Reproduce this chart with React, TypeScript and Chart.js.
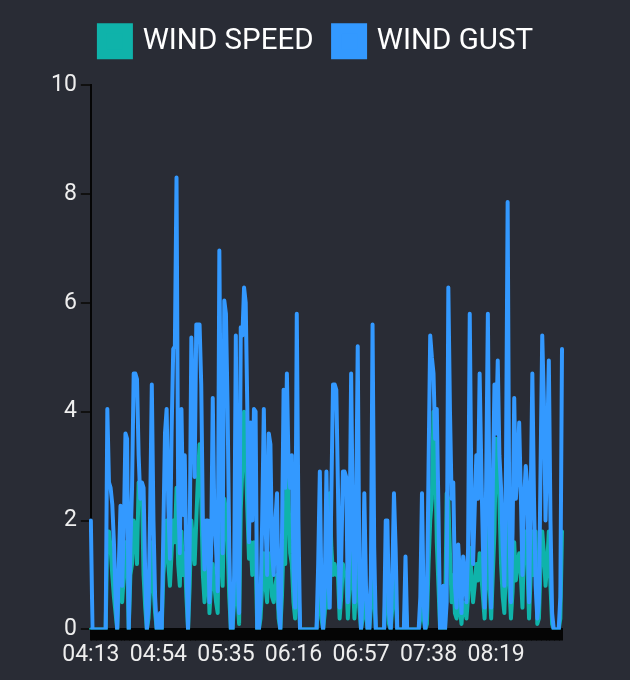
import React, { useEffect, useRef } from "react";
import { Chart, registerables } from "chart.js";

Chart.register(...registerables);

// x-axis tick labels shown (every 41st sample, one sample per minute)
const TICK_LABELS = ["04:13", "04:54", "05:35", "06:16", "06:57", "07:38", "08:19"];
const TICK_EVERY = 41;
const START_MIN = 4 * 60 + 13;

const WIND_GUST = [
  2.0, 0, 0, 0, 0, 0, 0, 0, 0, 0,
  4.05, 2.7, 2.6, 2.3, 1.6, 0.6, 0, 1.2, 2.27, 0.8,
  1.8, 3.6, 3.5, 0, 1.5, 2.6, 4.7, 4.7, 4.6, 3.2,
  2.4, 2.7, 2.6, 1.0, 0, 0.4, 2.2, 4.5, 2.0, 0.6,
  0, 0, 0.3, 0, 1.8, 3.6, 4.05, 2.3, 1.3, 3.6,
  5.15, 5.2, 8.3, 2.5, 1.4, 4.05, 2.1, 3.2, 1.2, 0,
  1.6, 5.36, 4.2, 2.8, 5.6, 5.6, 5.6, 4.5, 2.0, 1.1,
  2.0, 2.0, 0.5, 1.4, 4.25, 2.0, 1.5, 0.7, 6.96, 3.0,
  1.4, 6.04, 5.8, 4.1, 1.5, 0, 0, 1.0, 5.4, 1.2,
  0.3, 5.55, 5.4, 6.28, 6.0, 4.0, 1.6, 3.8, 2.0, 4.05,
  4.0, 0, 0, 0.5, 2.0, 4.05, 2.0, 1.0, 3.6, 3.4,
  1.4, 1.0, 2.0, 2.5, 0.4, 0, 1.6, 4.4, 2.6, 4.7,
  3.0, 2.6, 3.2, 1.1, 0.4, 5.8, 2.0, 0, 0, 0,
  0, 0, 0, 0, 0, 0, 0, 0, 1.2, 2.9,
  0.6, 0, 0.8, 2.9, 1.0, 0.4, 2.5, 4.5, 4.5, 4.4,
  2.6, 0.4, 1.3, 2.9, 2.9, 2.8, 0.5, 1.5, 4.7, 2.0,
  0.5, 2.0, 5.2, 1.0, 0, 0.6, 2.5, 0.8, 0, 0,
  1.0, 5.6, 1.5, 0, 0, 0, 0, 0, 0, 2.0,
  2.0, 0.3, 0, 1.0, 2.5, 1.5, 0, 0, 0, 0,
  0, 1.34, 0, 0, 0, 0, 0, 0, 0, 0,
  0.6, 2.5, 0.5, 0, 0.4, 3.0, 5.4, 5.0, 4.7, 3.5,
  4.05, 2.2, 0, 0, 0.8, 0, 0.5, 6.28, 4.0, 2.4,
  2.7, 0.8, 0.4, 1.56, 1.0, 0.3, 1.34, 1.0, 0.5, 1.5,
  5.8, 2.5, 1.2, 2.2, 3.2, 2.4, 4.7, 3.0, 1.5, 0.4,
  2.8, 5.8, 2.0, 0.4, 2.6, 4.5, 3.6, 4.94, 3.2, 2.6,
  1.5, 0.8, 3.0, 7.85, 2.0, 0.5, 1.8, 4.25, 2.4, 2.9,
  3.8, 2.5, 1.0, 2.4, 3.0, 2.6, 0.5, 2.4, 4.7, 2.4,
  0.8, 0.2, 0.5, 3.0, 5.4, 4.2, 2.0, 3.3, 4.94, 2.0,
  0.3, 0, 0, 0, 0, 0.6, 5.15,
];

const WIND_SPEED = [
  0, 0, 0, 0, 0, 0, 0, 0, 0, 0,
  1.8, 1.8, 1.5, 1.0, 0.6, 0.3, 0, 0.8, 1.0, 0.5,
  1.0, 1.6, 1.4, 0, 1.0, 1.2, 2.0, 1.8, 1.2, 2.7,
  2.6, 2.5, 1.0, 0.4, 0, 0.2, 0.8, 1.6, 0.8, 0.3,
  0, 0, 0.1, 0, 1.0, 1.4, 2.0, 1.2, 0.8, 1.4,
  2.0, 1.6, 2.6, 1.2, 0.8, 1.8, 1.0, 1.4, 0.6, 0,
  0.8, 2.0, 1.6, 1.2, 2.0, 2.8, 3.4, 2.4, 1.0, 0.5,
  1.0, 1.2, 0.3, 0.8, 1.2, 0.8, 0.5, 0.3, 2.6, 1.4,
  0.8, 2.4, 2.2, 1.6, 0.6, 0, 0, 0.5, 2.0, 0.6,
  0.1, 2.2, 3.0, 4.0, 3.2, 2.2, 1.3, 1.6, 1.0, 1.6,
  1.4, 0, 0, 0.2, 0.8, 1.4, 0.8, 0.5, 1.4, 1.2,
  0.6, 0.5, 0.8, 1.0, 0.2, 0, 0.6, 1.6, 1.2, 3.6,
  2.4, 1.4, 1.2, 0.5, 0.2, 2.2, 0.8, 0, 0, 0,
  0, 0, 0, 0, 0, 0, 0, 0, 0.5, 1.2,
  0.2, 0, 0.3, 1.0, 0.4, 2.5, 1.5, 1.0, 1.2, 1.0,
  1.0, 0.2, 0.6, 1.2, 1.0, 1.0, 0.2, 0.8, 1.6, 1.0,
  0.2, 0.8, 1.8, 0.4, 0, 0.2, 1.0, 0.3, 0, 0,
  0.4, 2.0, 0.6, 0, 0, 0, 0, 0, 0, 0.8,
  0.8, 0.1, 0, 0.4, 1.0, 0.6, 0, 0, 0, 0,
  0, 0.5, 0, 0, 0, 0, 0, 0, 0, 0,
  0.2, 1.0, 0.2, 0, 0.1, 1.2, 2.0, 2.4, 4.0, 3.3,
  1.6, 0.8, 0, 0, 0.3, 0, 2.5, 2.4, 1.4, 0.5,
  1.0, 0.3, 0.2, 0.6, 0.4, 0.1, 0.5, 0.4, 0.2, 0.6,
  1.5, 1.0, 0.5, 0.8, 1.2, 0.9, 1.4, 1.0, 0.6, 0.2,
  1.0, 2.0, 0.8, 0.2, 1.0, 1.8, 3.5, 3.0, 2.4, 1.2,
  0.6, 0.3, 1.2, 2.6, 0.8, 0.2, 0.7, 1.6, 0.9, 1.2,
  1.4, 1.0, 0.4, 1.8, 1.8, 1.2, 0.2, 1.0, 1.8, 1.0,
  1.8, 0.1, 0.2, 1.2, 1.8, 1.4, 0.8, 1.2, 1.8, 0.8,
  0.1, 0, 0, 0, 0, 0.2, 1.8,
];

const pad = (n: number) => (n < 10 ? "0" + n : "" + n);
const TIMES = WIND_GUST.map((_, i) => {
  const m = START_MIN + i;
  return pad(Math.floor(m / 60)) + ":" + pad(m % 60);
});

const BG = "#292c35";
const TEAL = "#0fb3aa";
const BLUE = "#3399ff";

// adds space below the legend
const legendSpacer = {
  id: "legendSpacer",
  beforeInit(chart: any) {
    const origFit = chart.legend.fit;
    chart.legend.fit = function () {
      origFit.bind(chart.legend)();
      this.height += 19;
    };
  },
};

export default function App() {
  const ref = useRef<HTMLCanvasElement | null>(null);

  useEffect(() => {
    document.body.style.margin = "0";
    document.body.style.background = BG;
    if (!ref.current) return;
    Chart.defaults.font.family = "Roboto";
    const baseGen = Chart.defaults.plugins.legend.labels.generateLabels;
    const chart = new Chart(ref.current, {
      type: "line",
      plugins: [legendSpacer],
      data: {
        labels: TIMES,
        datasets: [
          {
            label: "WIND GUST",
            data: WIND_GUST,
            borderColor: BLUE,
            backgroundColor: BLUE,
            borderWidth: 4,
            pointRadius: 0,
            tension: 0,
            borderJoinStyle: "round",
            borderCapStyle: "round",
            fill: false,
          },
          {
            label: "WIND SPEED",
            data: WIND_SPEED,
            borderColor: TEAL,
            backgroundColor: TEAL,
            borderWidth: 4,
            pointRadius: 0,
            tension: 0,
            borderJoinStyle: "round",
            borderCapStyle: "round",
            fill: false,
          },
        ],
      },
      options: {
        animation: false,
        responsive: true,
        maintainAspectRatio: false,
        layout: { padding: { top: 4, left: 47, right: 42, bottom: 10 } },
        plugins: {
          tooltip: { enabled: false },
          legend: {
            reverse: true,
            labels: {
              color: "#ffffff",
              boxWidth: 26,
              boxHeight: 26,
              padding: 22.5,
              font: { size: 29.5 },
              generateLabels: (c: any) =>
                baseGen(c).map((l: any) => ({ ...l, lineWidth: 10, lineJoin: "miter" })),
            },
          },
        },
        scales: {
          x: {
            grid: {
              display: true,
              drawOnChartArea: false,
              drawTicks: true,
              tickLength: 11,
              color: "#050505",
              lineWidth: 2,
            },
            border: { display: true, color: "#050505", width: 2 },
            ticks: {
              autoSkip: false,
              maxRotation: 0,
              minRotation: 0,
              color: "#eeeeee",
              font: { size: 23 },
              padding: 1,
              callback: (_v: any, i: number) =>
                i % TICK_EVERY === 0 && TICK_LABELS[i / TICK_EVERY] ? TICK_LABELS[i / TICK_EVERY] : "",
            },
          },
          y: {
            min: 0,
            max: 10,
            grid: {
              display: true,
              drawOnChartArea: false,
              drawTicks: true,
              tickLength: 10,
              color: "#101010",
              lineWidth: 2,
            },
            border: { display: true, color: "#050505", width: 2 },
            ticks: {
              stepSize: 2,
              color: "#eeeeee",
              font: { size: 23 },
              padding: 4,
            },
          },
          yRight: {
            position: "right",
            display: true,
            grid: { display: false },
            border: { display: false },
            ticks: { display: false },
            afterFit: (s: any) => {
              s.width = 26;
            },
          },
        },
      },
    });
    return () => chart.destroy();
  }, []);

  return (
    <div style={{ position: "fixed", left: 0, top: 0, width: 630, height: 680, background: BG }}>
      <canvas ref={ref} />
    </div>
  );
}
